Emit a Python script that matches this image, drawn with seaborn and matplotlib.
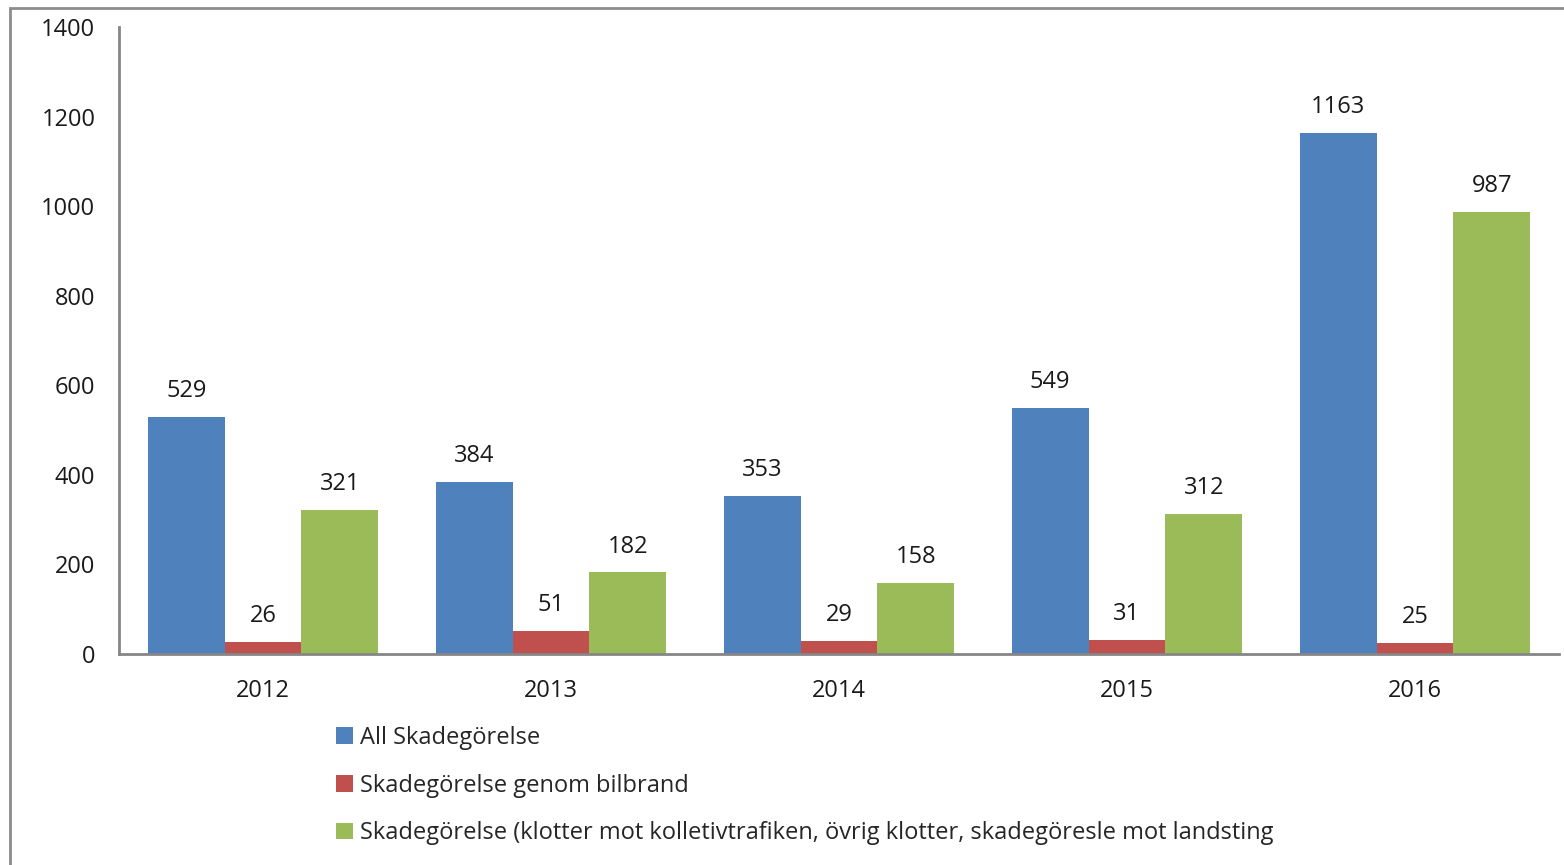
import numpy as np
import pandas as pd
import matplotlib
matplotlib.use("Agg")
import matplotlib.pyplot as plt
import seaborn as sns
from matplotlib.patches import Rectangle

# data
years = ["2012", "2013", "2014", "2015", "2016"]
series = [
    "All Skadegörelse",
    "Skadegörelse genom bilbrand",
    "Skadegörelse (klotter mot kolletivtrafiken, övrig klotter, skadegöresle mot landsting",
]
all_skade = [529, 384, 353, 549, 1163]
bilbrand = [26, 51, 29, 31, 25]
klotter = [321, 182, 158, 312, 987]
colors = ["#4F81BD", "#C0504D", "#9BBB59"]

df = pd.DataFrame({
    "year": years * 3,
    "serie": [series[0]] * 5 + [series[1]] * 5 + [series[2]] * 5,
    "value": all_skade + bilbrand + klotter,
})

sns.set_style("white")
plt.rcParams["font.family"] = ["Open Sans", "DejaVu Sans"]

fig = plt.figure(figsize=(15.64, 8.65), dpi=100)
ax = fig.add_axes([119 / 1564, 1 - 654 / 865, 1440 / 1564, (654 - 27) / 865])

sns.barplot(data=df, x="year", y="value", hue="serie", palette=colors,
            width=0.8, linewidth=0, saturation=1, ax=ax, legend=True)

for c in ax.containers:
    ax.bar_label(c, labels=[str(int(v)) for v in c.datavalues],
                 padding=10, fontsize=17, color="#1a1a1a")

ax.set_ylim(0, 1400)
ax.set_yticks(range(0, 1401, 200))
ax.set_xlim(-0.5, 4.5)
ax.set_xlabel("")
ax.set_ylabel("")
ax.tick_params(axis="both", labelsize=17, colors="#1a1a1a", length=0)
ax.tick_params(axis="y", pad=17)
ax.tick_params(axis="x", pad=18)
for s in ["top", "right"]:
    ax.spines[s].set_visible(False)
for s in ["left", "bottom"]:
    ax.spines[s].set_color("#868686")
    ax.spines[s].set_linewidth(2)

handles, labels = ax.get_legend_handles_labels()
ax.get_legend().remove()
fig.legend(handles, labels, loc="upper left", bbox_to_anchor=(336 / 1564, 1 - 726 / 865),
           frameon=False, fontsize=17, handlelength=0.7, handleheight=0.7,
           handletextpad=0.3, labelspacing=1.0, borderpad=0, borderaxespad=0)

# outer chart border
fig.add_artist(Rectangle((10 / 1564, -0.05), 1.1, 1.05 - 8 / 865, transform=fig.transFigure,
                         fill=False, edgecolor="#8c8c8c", linewidth=2))

fig.savefig("out.png", dpi=100)
